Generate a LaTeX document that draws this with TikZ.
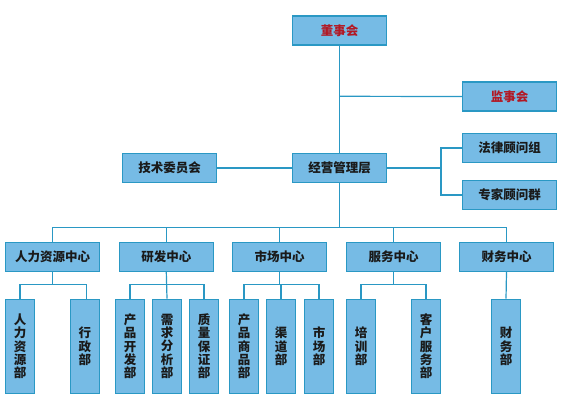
\documentclass[tikz,border=0pt]{standalone}
\usepackage{fontspec}
\newfontfamily\cjk{Noto Sans CJK SC}
\definecolor{boxfill}{RGB}{118,187,229}
\definecolor{boxline}{RGB}{42,152,196}
\definecolor{toptext}{RGB}{178,24,36}
\definecolor{bodytext}{RGB}{26,26,26}
\tikzset{
  hbox/.style={draw=boxline, fill=boxfill, line width=1.3pt, minimum width=94pt, minimum height=29pt, inner sep=0pt,
    font=\cjk\bfseries\fontsize{12.5}{13.4}\selectfont, text=bodytext},
  topbox/.style={hbox, text=toptext},
  vbox/.style={draw=boxline, fill=boxfill, line width=1.3pt, minimum width=29pt, minimum height=94pt, inner sep=0pt,
    align=center, font=\cjk\bfseries\fontsize{12.5}{13.4}\selectfont, text=bodytext},
  conn/.style={draw=boxline, line width=1.2pt}
}
\begin{document}
\begin{tikzpicture}[x=1pt,y=-1pt]
\useasboundingbox (0,0) rectangle (569,409);
% top level
\node[topbox] (board) at (339.5,30.5) {董事会};
\node[topbox] (super) at (509.5,96.5) {监事会};
\node[hbox] (mgmt) at (339.5,168) {经营管理层};
\node[hbox] (tech) at (169.5,168) {技术委员会};
\node[hbox] (legal) at (509.5,148) {法律顾问组};
\node[hbox] (expert) at (509.5,195) {专家顾问群};
% centers
\node[hbox] (hr) at (52.5,257) {人力资源中心};
\node[hbox] (rd) at (166.3,257) {研发中心};
\node[hbox] (mk) at (279.5,257) {市场中心};
\node[hbox] (sv) at (393.5,257) {服务中心};
\node[hbox] (fin) at (506.5,257) {财务中心};
% departments
\node[vbox] (d1) at (20,346.3) {人\\力\\资\\源\\部};
\node[vbox] (d2) at (84.8,346.3) {行\\政\\部};
\node[vbox] (d3) at (130,346.3) {产\\品\\开\\发\\部};
\node[vbox] (d4) at (167,346.3) {需\\求\\分\\析\\部};
\node[vbox] (d5) at (204,346.3) {质\\量\\保\\证\\部};
\node[vbox] (d6) at (244,346.3) {产\\品\\商\\品\\部};
\node[vbox] (d7) at (281,346.3) {渠\\道\\部};
\node[vbox] (d8) at (319,346.3) {市\\场\\部};
\node[vbox] (d9) at (361,346.3) {培\\训\\部};
\node[vbox] (d10) at (426,346.3) {客\\户\\服\\务\\部};
\node[vbox] (d11) at (506,346.3) {财\\务\\部};
% coordinates
\coordinate (sj) at (339.5,96.3);
\coordinate (rj) at (441,168);
\coordinate (busy) at (0,227.3);
\coordinate (suby) at (0,284.3);
% connectors
\draw[conn] (board.south) -- (mgmt.north);
\draw[conn] (sj) -- (super.west);
\draw[conn] (tech.east) -- (mgmt.west);
\draw[conn] (mgmt.east) -- (rj);
\draw[conn] (legal.west) -| (rj) |- (expert.west);
\draw[conn] (mgmt.south) -- (mgmt.south |- busy);
\draw[conn] (hr.north |- busy) -- (fin.north |- busy);
\foreach \c in {hr,rd,mk,sv,fin} \draw[conn] (\c.north |- busy) -- (\c.north);
% sub buses
\draw[conn] (hr.south) -- (hr.south |- suby);
\draw[conn] (d1.north |- suby) -- ([xshift=1.9pt]d2.north |- suby) -- ([xshift=1.9pt]d2.north);
\draw[conn] (d1.north |- suby) -- (d1.north);
\draw[conn] (rd.south) -- (d4.north);
\draw[conn] (d3.north |- suby) -- (d5.north |- suby);
\draw[conn] (d3.north |- suby) -- (d3.north);
\draw[conn] (d5.north |- suby) -- (d5.north);
\draw[conn] (mk.south) -- (mk.south |- suby);
\draw[conn] (d6.north |- suby) -- (d8.north |- suby);
\draw[conn] (d6.north |- suby) -- (d6.north);
\draw[conn] (d7.north |- suby) -- (d7.north);
\draw[conn] (d8.north |- suby) -- (d8.north);
\draw[conn] (sv.south) -- (sv.south |- suby);
\draw[conn] (d9.north |- suby) -- (d10.north |- suby);
\draw[conn] (d9.north |- suby) -- (d9.north);
\draw[conn] (d10.north |- suby) -- (d10.north);
\draw[conn] (fin.south) -- (d11.north);
\end{tikzpicture}
\end{document}
